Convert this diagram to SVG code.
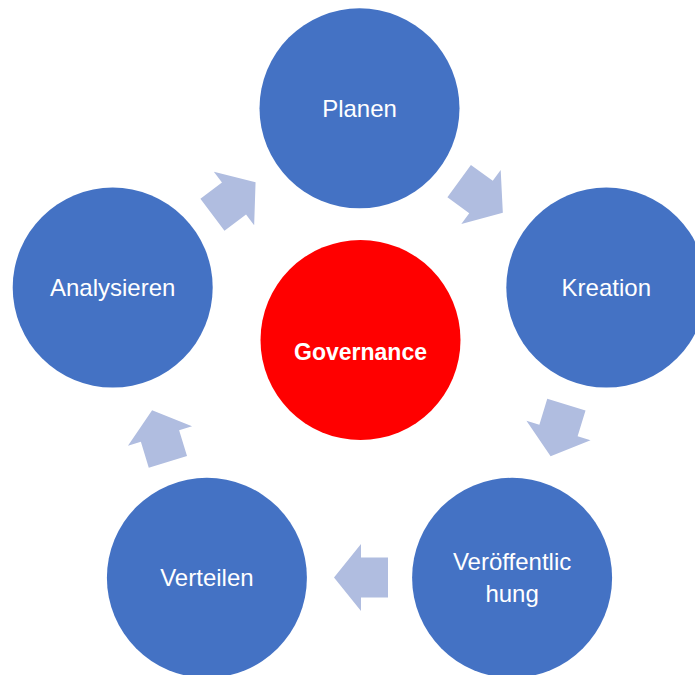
<svg xmlns="http://www.w3.org/2000/svg" width="695" height="675" viewBox="0 0 695 675">
<style>
.node{fill:#4472C4}
.core{fill:#FF0000}
.lbl{font-family:"Liberation Sans",Arial,sans-serif;font-size:24px;fill:#FFFFFF;text-anchor:middle}
.bold{font-weight:bold;font-size:23px}
.arr{fill:#B0BDE0}
</style>
<defs>
<polygon id="blk" points="27,0 0,-33.5 0,-20 -27,-20 -27,20 0,20 0,33.5"/>
</defs>
<rect width="695" height="675" fill="#FFFFFF"/>
<g id="connectors">
<use href="#blk" class="arr" transform="translate(234,198.5) rotate(-37)"/>
<use href="#blk" class="arr" transform="translate(481,197) rotate(36)"/>
<use href="#blk" class="arr" transform="translate(558.5,430.5) rotate(107)"/>
<use href="#blk" class="arr" transform="translate(361,577.5) rotate(180)"/>
<use href="#blk" class="arr" transform="translate(160,436) rotate(-107)"/>
</g>
<g id="planen">
<circle class="node" cx="359.5" cy="108.3" r="100"/>
<text class="lbl" x="359.5" y="116.5">Planen</text>
</g>
<g id="kreation">
<circle class="node" cx="606.3" cy="287.6" r="100"/>
<text class="lbl" x="606.3" y="296">Kreation</text>
</g>
<g id="veroeffentlichung">
<circle class="node" cx="512.1" cy="577.8" r="100"/>
<text class="lbl" x="512.1" y="569.5">Veröffentlic</text>
<text class="lbl" x="512.1" y="601.5">hung</text>
</g>
<g id="verteilen">
<circle class="node" cx="206.9" cy="577.8" r="100"/>
<text class="lbl" x="206.9" y="585.5">Verteilen</text>
</g>
<g id="analysieren">
<circle class="node" cx="112.7" cy="287.6" r="100"/>
<text class="lbl" x="112.7" y="296">Analysieren</text>
</g>
<g id="governance">
<circle class="core" cx="360.5" cy="340" r="100"/>
<text class="lbl bold" x="360.5" y="359.5">Governance</text>
</g>
</svg>
